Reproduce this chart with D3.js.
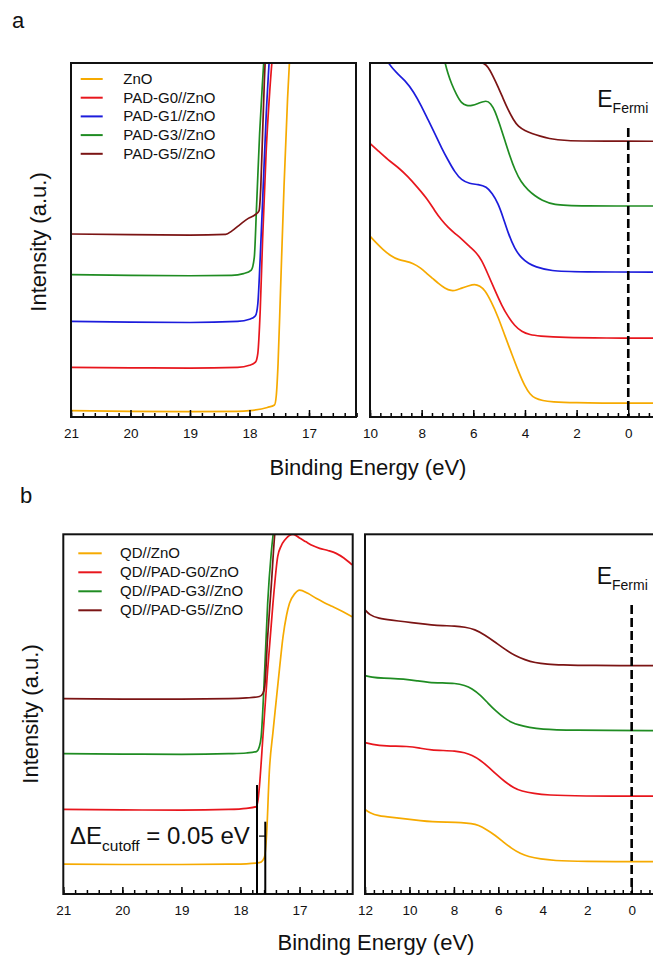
<!DOCTYPE html>
<html>
<head>
<meta charset="utf-8">
<script src="https://cdn.jsdelivr.net/npm/d3@7"></script>
<style>
  body { margin: 0; background: #fff; }
  svg { display: block; font-family: "Liberation Sans", Arial, Helvetica, sans-serif; }
</style>
</head>
<body>
<div id="viz"></div>
<script>
/* ===== DATA (binding energy in eV, intensity in a.u. 0-100 of frame) ===== */

// panel a, secondary electron cutoff region
const aCutZnO = [[21, 1.8], [20, 1.6], [19, 1.5], [18.2, 1.6], [18.0, 1.8], [17.7, 2.7], [17.58, 3.4], [17.55, 6], [17.52, 15], [17.48, 35], [17.42, 65], [17.36, 90], [17.32, 103]];
const aCutG0 = [[21, 14.0], [20, 13.9], [19, 13.8], [18.2, 14.0], [18.0, 14.6], [17.9, 15.5], [17.86, 18], [17.82, 30], [17.78, 50], [17.72, 75], [17.66, 92], [17.61, 103]];
const aCutG1 = [[21, 27.0], [20, 26.8], [19, 26.7], [18.2, 27.0], [18.0, 27.6], [17.9, 28.6], [17.86, 32], [17.82, 45], [17.77, 65], [17.72, 85], [17.66, 103]];
const aCutG3 = [[21, 40.2], [20, 40.0], [19, 39.9], [18.3, 40.0], [18.1, 40.5], [17.97, 41.5], [17.92, 45], [17.88, 60], [17.83, 80], [17.78, 95], [17.75, 103]];
const aCutG5 = [[21, 51.7], [20, 51.5], [19, 51.4], [18.4, 51.6], [18.3, 52.5], [18.15, 54.5], [18.02, 56.1], [17.9, 57.2], [17.84, 58.2], [17.81, 65], [17.78, 80], [17.75, 95], [17.73, 103]];

// panel a, valence band region
const aValZnO = [[10, 51.1], [9.8, 49.5], [9.5, 47.3], [9.2, 45.5], [8.9, 44.4], [8.6, 44.0], [8.33, 43.4], [8.05, 42.2], [7.81, 40.6], [7.55, 39.0], [7.36, 37.8], [7.1, 36.3], [6.85, 35.6], [6.65, 35.8], [6.46, 36.4], [6.2, 37.0], [5.94, 37.6], [5.75, 37.0], [5.55, 35.9], [5.3, 32.5], [5.04, 28.3], [4.78, 23.0], [4.52, 18.0], [4.25, 12.8], [4.0, 8.6], [3.8, 6.4], [3.62, 5.3], [3.3, 4.6], [3.0, 4.3], [2.0, 4.0], [1.0, 3.9], [0, 3.9], [-1.5, 3.9]];
const aValG0 = [[10, 77.3], [9.7, 75.3], [9.3, 72.6], [8.9, 70.5], [8.53, 67.9], [8.15, 64.8], [7.75, 61.3], [7.5, 58.3], [7.23, 55.6], [6.98, 53.6], [6.72, 51.9], [6.43, 50.2], [6.14, 48.1], [5.9, 46.6], [5.68, 44.4], [5.43, 40.3], [5.17, 35.9], [4.9, 31.5], [4.65, 28.3], [4.4, 25.8], [4.13, 24.1], [3.8, 23.2], [3.49, 22.9], [2.5, 22.4], [1, 22.3], [-1.5, 22.3]];
const aValG1 = [[10, 108], [9.6, 103.5], [9.3, 100], [8.98, 97.2], [8.65, 95.2], [8.3, 91.8], [8.0, 87.7], [7.75, 83.9], [7.49, 80.1], [7.23, 76.0], [6.98, 72.6], [6.72, 69.2], [6.46, 66.9], [6.15, 65.9], [5.81, 65.7], [5.49, 65.1], [5.27, 63.2], [5.04, 60.4], [4.85, 56.5], [4.65, 51.9], [4.4, 47.5], [4.13, 44.8], [3.85, 43.3], [3.62, 42.5], [3.0, 41.2], [2.0, 41.0], [-1.5, 40.9]];
const aValG3 = [[7.4, 110], [7.1, 100], [6.98, 97.0], [6.85, 94.2], [6.65, 91.0], [6.46, 88.6], [6.25, 87.9], [6.07, 87.9], [5.8, 88.6], [5.49, 89.5], [5.33, 88.6], [5.17, 86.7], [4.98, 82.7], [4.78, 78.2], [4.58, 73.6], [4.39, 69.8], [4.15, 66.3], [3.88, 64.1], [3.6, 62.4], [3.36, 61.3], [2.9, 59.9], [2.0, 59.6], [-1.5, 59.6]];
const aValG5 = [[6.6, 102], [6.14, 100.2], [5.8, 100.2], [5.6, 100], [5.43, 99], [5.25, 96.5], [5.04, 93.3], [4.85, 90.0], [4.65, 86.7], [4.45, 84.0], [4.26, 82.0], [4.0, 80.9], [3.74, 80.1], [3.4, 79.3], [3.1, 78.7], [2.5, 78.0], [1.0, 77.9], [-1.5, 77.9]];

// panel b, secondary electron cutoff region
const bCutZnO = [[21, 8.3], [20, 8.2], [19, 8.2], [18.2, 8.3], [17.9, 8.4], [17.68, 8.7], [17.62, 9.4], [17.59, 10.5], [17.56, 15.9], [17.51, 34.5], [17.45, 45], [17.40, 53.0], [17.34, 62.5], [17.28, 71.5], [17.22, 77.5], [17.17, 80.8], [17.08, 83.5], [17.0, 84.5], [16.86, 83.6], [16.72, 82.2], [16.58, 81.0], [16.44, 79.9], [16.28, 78.6], [16.11, 77.1]];
const bCutG0 = [[21, 23.5], [20, 23.4], [19, 23.3], [18.2, 23.5], [17.9, 23.8], [17.73, 24.3], [17.7, 26.5], [17.68, 29.8], [17.62, 43.7], [17.54, 62.3], [17.45, 80.8], [17.37, 93.8], [17.31, 96.8], [17.25, 98.4], [17.11, 100], [17.0, 99.0], [16.89, 97.9], [16.77, 96.8], [16.66, 96.1], [16.52, 95.5], [16.38, 94.7], [16.25, 93.4], [16.11, 91.5]];
const bCutG3 = [[21, 39.0], [20, 38.9], [19, 38.8], [18.2, 39.0], [17.9, 39.2], [17.73, 39.6], [17.68, 41.0], [17.65, 43.7], [17.59, 62.3], [17.54, 80.8], [17.48, 94.7], [17.44, 101], [17.4, 106]];
const bCutG5 = [[21, 54.3], [20, 54.2], [19, 54.2], [18.2, 54.3], [17.9, 54.5], [17.68, 54.9], [17.62, 55.8], [17.59, 57.6], [17.54, 71.5], [17.48, 85.4], [17.42, 100], [17.38, 106]];

// panel b, valence band region
const bValZnO = [[12, 23.5], [11.8, 22.6], [11.4, 21.7], [10.8, 21.3], [10.05, 20.8], [9.5, 20.4], [9.0, 20.1], [8.3, 20.0], [7.65, 19.9], [7.2, 19.6], [6.91, 19.2], [6.5, 17.8], [6.16, 16.4], [5.8, 14.6], [5.41, 12.7], [5.0, 11.2], [4.66, 10.4], [4.1, 9.7], [3.46, 9.3], [2.5, 9.0], [-1.5, 9.0]];
const bValG0 = [[12, 42.1], [11.7, 41.6], [11.1, 41.1], [10.05, 41.1], [9.5, 40.5], [9.0, 40.0], [8.5, 39.9], [7.96, 39.8], [7.5, 39.3], [7.2, 38.6], [6.8, 37.2], [6.46, 35.4], [6.1, 33.3], [5.71, 31.2], [5.3, 29.5], [4.96, 28.6], [4.4, 27.9], [3.76, 27.5], [2.5, 27.2], [-1.5, 27.2]];
const bValG3 = [[12, 60.7], [11.7, 60.3], [11.25, 60.0], [10.2, 59.8], [9.6, 59.2], [9.15, 58.8], [8.5, 58.7], [7.96, 58.6], [7.5, 58.0], [7.2, 57.2], [6.8, 55.3], [6.46, 53.0], [6.1, 50.8], [5.71, 48.8], [5.4, 47.7], [5.11, 47.0], [4.6, 46.3], [4.06, 45.8], [3.0, 45.5], [-1.5, 45.4]];
const bValG5 = [[12, 79.0], [11.8, 77.6], [11.4, 76.6], [10.8, 76.1], [10.2, 75.7], [9.6, 75.2], [9.0, 74.8], [8.5, 74.6], [7.96, 74.5], [7.5, 74.2], [7.06, 73.6], [6.6, 72.0], [6.16, 70.1], [5.7, 68.0], [5.26, 66.3], [4.8, 65.1], [4.36, 64.3], [3.8, 63.9], [3.16, 63.7], [2.0, 63.5], [-1.5, 63.5]];

// legends and ticks
const legendA = ['ZnO', 'PAD-G0//ZnO', 'PAD-G1//ZnO', 'PAD-G3//ZnO', 'PAD-G5//ZnO'];
const legendB = ['QD//ZnO', 'QD//PAD-G0/ZnO', 'QD//PAD-G3//ZnO', 'QD//PAD-G5//ZnO'];
const cutTicks = [21, 20, 19, 18, 17];
const valTicksA = [10, 8, 6, 4, 2, 0];
const valTicksB = [12, 10, 8, 6, 4, 2, 0];
const cutoffMarks = [17.72, 17.58];   // edges used for the ΔE annotation
const fermiLevel = 0;

const colors = { ZnO: '#f6aa00', G0: '#e8161d', G1: '#1c1cdc', G3: '#1f8c22', G5: '#7b1414' };

/* ===== CANVAS ===== */
const width = 653, height = 959;
const svg = d3.select('#viz').append('svg')
    .attr('width', width)
    .attr('height', height);

const font = '"Liberation Sans", Arial, Helvetica, sans-serif';

/* ===== PANEL HELPER ===== */
let clipCount = 0;
function drawPanel(p) {
    const g = svg.append('g').attr('transform', `translate(${p.left},${p.top})`);
    const x = d3.scaleLinear().domain(p.xDomain).range([0, p.width]);
    const y = d3.scaleLinear().domain([0, 100]).range([p.height, 0]);

    const id = 'clip' + (clipCount++);
    g.append('clipPath').attr('id', id)
      .append('rect').attr('width', p.width).attr('height', p.height);

    const line = d3.line()
        .x(d => x(d[0]))
        .y(d => y(d[1]))
        .curve(p.curve);

    g.append('g').attr('clip-path', `url(#${id})`)
      .selectAll('path')
      .data(p.series)
      .join('path')
        .attr('d', d => line(d.values))
        .attr('fill', 'none')
        .attr('stroke', d => d.color)
        .attr('stroke-width', 1.7)
        .attr('stroke-linejoin', 'round');

    // minor + major ticks pointing inward
    const [d0, d1] = p.xDomain;
    const minor = d3.range(Math.round(d0 / p.minorStep), Math.round(d1 / p.minorStep) - 1, -1)
        .map(k => +(k * p.minorStep).toFixed(2));
    g.append('g')
        .attr('transform', `translate(0,${p.height})`)
        .call(d3.axisBottom(x).tickValues(minor).tickSize(-4).tickFormat(''))
        .call(a => a.select('.domain').remove())
        .call(a => a.selectAll('line').attr('stroke', '#000').attr('stroke-width', 1.5));

    g.append('g')
        .attr('transform', `translate(0,${p.height})`)
        .call(d3.axisBottom(x).tickValues(p.ticks).tickSize(-7).tickPadding(11.5).tickFormat(d3.format('d')))
        .call(a => a.select('.domain').remove())
        .call(a => a.selectAll('line').attr('stroke', '#000').attr('stroke-width', 1.5))
        .call(a => a.selectAll('text')
            .attr('font-family', font)
            .attr('font-size', 13.5)
            .attr('fill', '#111'));

    g.append('rect')
        .attr('width', p.width)
        .attr('height', p.height)
        .attr('fill', 'none')
        .attr('stroke', '#111')
        .attr('stroke-width', 2);

    return { g, x, y };
}

function drawLegend(g, names, series, lx0, lx1, tx, y0, dy) {
    names.forEach((name, i) => {
        const yy = y0 + i * dy;
        g.append('line')
            .attr('x1', lx0).attr('x2', lx1)
            .attr('y1', yy - 5).attr('y2', yy - 5)
            .attr('stroke', series[i].color)
            .attr('stroke-width', 2);
        g.append('text')
            .attr('x', tx).attr('y', yy)
            .attr('font-size', 15)
            .attr('fill', '#111')
            .text(name);
    });
}

function drawFermi(panel, labelDx, lineTop) {
    const fx = panel.x(fermiLevel);
    panel.g.append('line')
        .attr('x1', fx).attr('x2', fx)
        .attr('y1', lineTop).attr('y2', panel.y(0))
        .attr('stroke', '#000')
        .attr('stroke-width', 2.6)
        .attr('stroke-dasharray', '9,4');
    const t = panel.g.append('text')
        .attr('x', fx + labelDx)
        .attr('y', lineTop - 21)
        .attr('fill', '#111')
        .attr('font-size', 23);
    t.append('tspan').text('E');
    t.append('tspan').attr('font-size', 14).attr('dy', 6).text('Fermi');
}

/* ===== PANEL a ===== */
const seriesA = [
    { color: colors.ZnO, cut: aCutZnO, val: aValZnO },
    { color: colors.G0, cut: aCutG0, val: aValG0 },
    { color: colors.G1, cut: aCutG1, val: aValG1 },
    { color: colors.G3, cut: aCutG3, val: aValG3 },
    { color: colors.G5, cut: aCutG5, val: aValG5 },
];

const aLeft = drawPanel({
    left: 71, top: 63, width: 285, height: 354,
    xDomain: [21, 16.21], ticks: cutTicks, minorStep: 0.2, curve: d3.curveMonotoneX,
    series: seriesA.map(s => ({ color: s.color, values: s.cut })),
});
const aRight = drawPanel({
    left: 370, top: 63, width: 297, height: 354,
    xDomain: [10, -1.5], ticks: valTicksA, minorStep: 0.4, curve: d3.curveBasis,
    series: seriesA.map(s => ({ color: s.color, values: s.val })),
});
drawLegend(aLeft.g, legendA, seriesA, 9.7, 31.7, 52.3, 21, 18.7);
drawFermi(aRight, -31, 65);

/* ===== PANEL b ===== */
const seriesB = [
    { color: colors.ZnO, cut: bCutZnO, val: bValZnO },
    { color: colors.G0, cut: bCutG0, val: bValG0 },
    { color: colors.G3, cut: bCutG3, val: bValG3 },
    { color: colors.G5, cut: bCutG5, val: bValG5 },
];

const bLeft = drawPanel({
    left: 63.3, top: 534.3, width: 289.4, height: 359.7,
    xDomain: [21, 16.1], ticks: cutTicks, minorStep: 0.2, curve: d3.curveMonotoneX,
    series: seriesB.map(s => ({ color: s.color, values: s.cut })),
});
const bRight = drawPanel({
    left: 365, top: 534.3, width: 300, height: 359.7,
    xDomain: [12, -1.5], ticks: valTicksB, minorStep: 0.4, curve: d3.curveBasis,
    series: seriesB.map(s => ({ color: s.color, values: s.val })),
});
drawLegend(bLeft.g, legendB, seriesB, 15, 38.4, 56.7, 24, 19);
drawFermi(bRight, -35, 70.7);

// ΔE cutoff annotation
const [cx1, cx2] = cutoffMarks.map(bLeft.x);
bLeft.g.append('line')
    .attr('x1', cx1).attr('x2', cx1)
    .attr('y1', bLeft.y(30.3)).attr('y2', bLeft.y(0))
    .attr('stroke', '#000').attr('stroke-width', 2);
bLeft.g.append('line')
    .attr('x1', cx2).attr('x2', cx2)
    .attr('y1', bLeft.y(20.1)).attr('y2', bLeft.y(0))
    .attr('stroke', '#000').attr('stroke-width', 2);
bLeft.g.append('line')
    .attr('x1', cx1 + 2).attr('x2', cx2)
    .attr('y1', bLeft.y(16.1)).attr('y2', bLeft.y(16.1))
    .attr('stroke', '#000').attr('stroke-width', 1.2);
const dE = bLeft.g.append('text')
    .attr('x', 70 - 63.3)
    .attr('y', bLeft.y(13.8))
    .attr('fill', '#111')
    .attr('font-size', 24);
dE.append('tspan').text('ΔE');
dE.append('tspan').attr('font-size', 15.5).attr('dy', 7).text('cutoff');
dE.append('tspan').attr('dy', -7).text(' = 0.05 eV');

/* ===== PERIPHERALS ===== */
svg.append('text').attr('x', 12).attr('y', 28).attr('font-size', 22).attr('fill', '#111').text('a');
svg.append('text').attr('x', 20).attr('y', 503).attr('font-size', 22).attr('fill', '#111').text('b');

[[38, 242], [30, 714]].forEach(([lx, ly]) => {
    svg.append('text')
        .attr('transform', `translate(${lx},${ly}) rotate(-90)`)
        .attr('text-anchor', 'middle')
        .attr('dy', '0.35em')
        .attr('font-size', 22)
        .attr('fill', '#111')
        .text('Intensity (a.u.)');
});

[[368, 475], [376, 950]].forEach(([lx, ly]) => {
    svg.append('text')
        .attr('x', lx).attr('y', ly)
        .attr('text-anchor', 'middle')
        .attr('font-size', 22)
        .attr('fill', '#111')
        .text('Binding Energy (eV)');
});
</script>
</body>
</html>
